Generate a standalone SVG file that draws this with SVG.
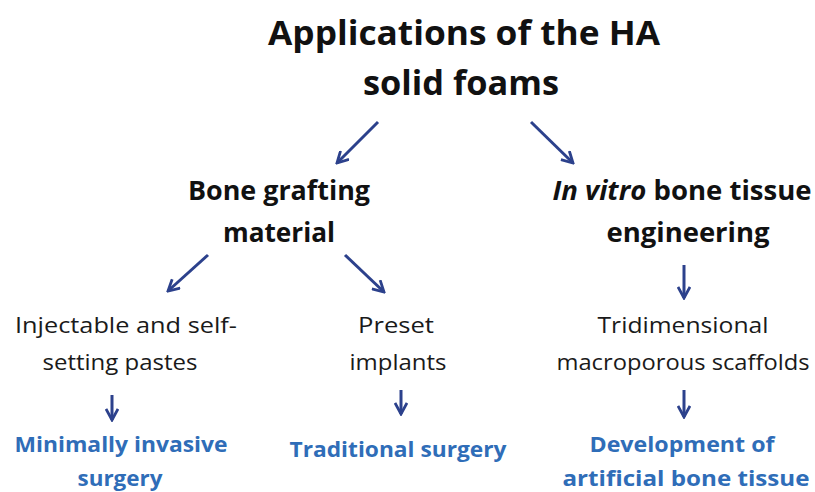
<svg xmlns="http://www.w3.org/2000/svg" width="815" height="492" viewBox="0 0 815 492">
<style>
text{font-family:"Open Sans","Liberation Sans",sans-serif;text-anchor:middle}
.t{font-weight:bold;font-size:34px;fill:#111}
.h{font-weight:bold;font-size:26px;fill:#111}
.n{font-size:21px;fill:#1a1a1a}
.b{font-weight:bold;font-size:21px;fill:#2f6db8}
.c line{stroke:#2c418c;stroke-width:3;marker-end:url(#ah)}
</style>
<defs>
<marker id="ah" viewBox="0 0 14 14" refX="12" refY="7" markerWidth="14" markerHeight="14" markerUnits="userSpaceOnUse" orient="auto">
<polyline points="1,1 12,7 1,13" fill="none" stroke="#2c418c" stroke-width="2.8"/>
</marker>
</defs>
<rect width="815" height="492" fill="#fff"/>
<g id="title">
<text class="t" x="464" y="45" textLength="392" lengthAdjust="spacingAndGlyphs">Applications of the HA</text>
<text class="t" x="461" y="95" textLength="196" lengthAdjust="spacingAndGlyphs">solid foams</text>
</g>
<g id="bone-grafting">
<text class="h" x="279" y="200" textLength="182" lengthAdjust="spacingAndGlyphs">Bone grafting</text>
<text class="h" x="279" y="242" textLength="112" lengthAdjust="spacingAndGlyphs">material</text>
</g>
<g id="in-vitro">
<text class="h" x="682" y="200" textLength="259" lengthAdjust="spacingAndGlyphs"><tspan font-style="italic">In vitro</tspan> bone tissue</text>
<text class="h" x="688" y="242" textLength="163" lengthAdjust="spacingAndGlyphs">engineering</text>
</g>
<g id="injectable">
<text class="n" x="126" y="333" textLength="222" lengthAdjust="spacingAndGlyphs">Injectable and self-</text>
<text class="n" x="120" y="370" textLength="155" lengthAdjust="spacingAndGlyphs">setting pastes</text>
</g>
<g id="preset">
<text class="n" x="396" y="333" textLength="76" lengthAdjust="spacingAndGlyphs">Preset</text>
<text class="n" x="398" y="370" textLength="97" lengthAdjust="spacingAndGlyphs">implants</text>
</g>
<g id="tridimensional">
<text class="n" x="683" y="333" textLength="171" lengthAdjust="spacingAndGlyphs">Tridimensional</text>
<text class="n" x="683" y="370" textLength="253" lengthAdjust="spacingAndGlyphs">macroporous scaffolds</text>
</g>
<g id="minimally">
<text class="b" x="121" y="452" textLength="213" lengthAdjust="spacingAndGlyphs">Minimally invasive</text>
<text class="b" x="120" y="486" textLength="85" lengthAdjust="spacingAndGlyphs">surgery</text>
</g>
<g id="traditional">
<text class="b" x="398" y="457" textLength="217" lengthAdjust="spacingAndGlyphs">Traditional surgery</text>
</g>
<g id="development">
<text class="b" x="682" y="452" textLength="185" lengthAdjust="spacingAndGlyphs">Development of</text>
<text class="b" x="686" y="486" textLength="247" lengthAdjust="spacingAndGlyphs">artificial bone tissue</text>
</g>
<g id="connectors" class="c">
<line x1="378" y1="122" x2="337" y2="163"/>
<line x1="531" y1="122" x2="573" y2="163"/>
<line x1="208" y1="255" x2="168" y2="291"/>
<line x1="345" y1="255" x2="384" y2="292"/>
<line x1="684" y1="265" x2="684" y2="298"/>
<line x1="112" y1="395" x2="112" y2="420"/>
<line x1="401" y1="390" x2="401" y2="414"/>
<line x1="684" y1="390" x2="684" y2="417"/>
</g>
</svg>
